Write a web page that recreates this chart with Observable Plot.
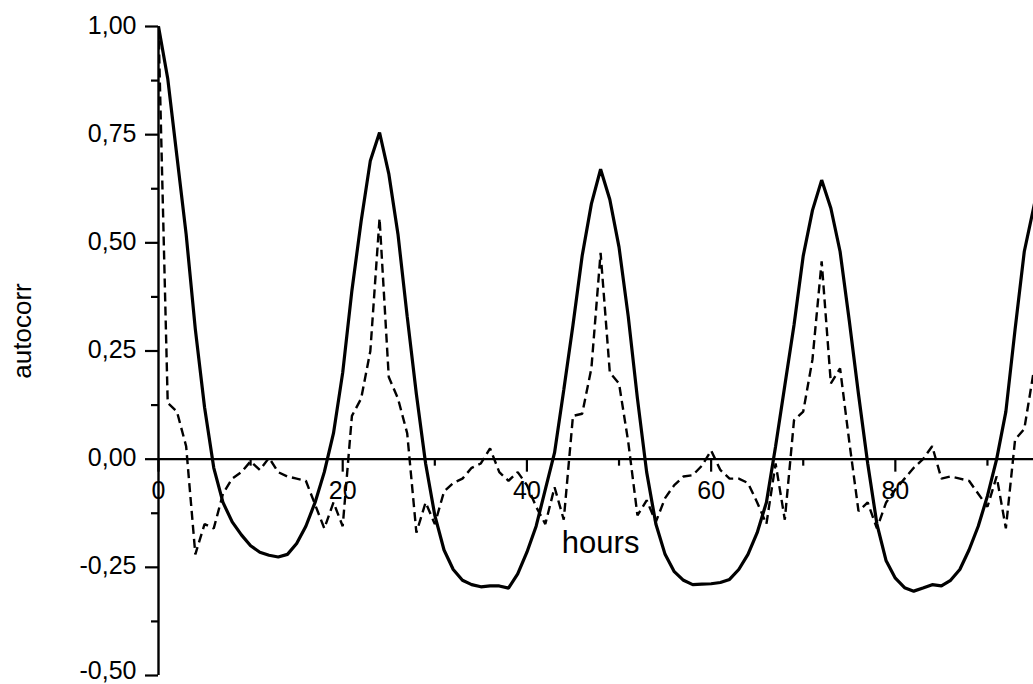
<!DOCTYPE html>
<html>
<head>
<meta charset="utf-8">
<script src="https://cdn.jsdelivr.net/npm/d3@7"></script>
<script src="https://cdn.jsdelivr.net/npm/@observablehq/plot@0.6"></script>
<style>
  html, body { margin: 0; padding: 0; background: #ffffff; }
  #chart svg { display: block; }
</style>
</head>
<body>
<div id="chart"></div>
<script>
// autocorrelation, solid series (hour 0..96)
const solidValues = [
  1.00, 0.88, 0.70, 0.52, 0.30, 0.12, -0.02, -0.10, -0.145, -0.175,
  -0.20, -0.215, -0.222, -0.226, -0.22, -0.195, -0.155, -0.10, -0.03, 0.06,
  0.20, 0.39, 0.55, 0.69, 0.755, 0.66, 0.52, 0.33, 0.15, -0.01,
  -0.13, -0.21, -0.255, -0.28, -0.29, -0.295, -0.293, -0.293, -0.298, -0.265,
  -0.215, -0.155, -0.07, 0.015, 0.16, 0.31, 0.47, 0.59, 0.67, 0.60,
  0.49, 0.33, 0.14, -0.03, -0.15, -0.22, -0.26, -0.28, -0.29, -0.289,
  -0.288, -0.285, -0.278, -0.255, -0.22, -0.17, -0.10, 0.03, 0.17, 0.31,
  0.47, 0.575, 0.645, 0.58, 0.48, 0.32, 0.15, -0.01, -0.15, -0.235,
  -0.275, -0.297, -0.305, -0.298, -0.29, -0.293, -0.28, -0.255, -0.21, -0.155,
  -0.085, 0.0, 0.11, 0.30, 0.48, 0.58, 0.68
];
// autocorrelation, dashed series (hour 0..95)
const dashedValues = [
  1.00, 0.13, 0.11, 0.03, -0.22, -0.15, -0.16, -0.08, -0.045, -0.03,
  -0.005, -0.025, 0.003, -0.03, -0.04, -0.045, -0.05, -0.105, -0.16, -0.10,
  -0.155, 0.10, 0.14, 0.25, 0.557, 0.19, 0.14, 0.06, -0.17, -0.10,
  -0.15, -0.075, -0.055, -0.045, -0.02, -0.01, 0.025, -0.03, -0.05, -0.03,
  -0.06, -0.11, -0.15, -0.065, -0.14, 0.10, 0.105, 0.21, 0.477, 0.20,
  0.175, 0.04, -0.13, -0.095, -0.145, -0.09, -0.06, -0.04, -0.037, -0.015,
  0.02, -0.025, -0.045, -0.045, -0.055, -0.10, -0.15, -0.01, -0.14, 0.09,
  0.11, 0.23, 0.457, 0.175, 0.21, 0.04, -0.12, -0.10, -0.16, -0.10,
  -0.07, -0.045, -0.02, 0.0, 0.03, -0.045, -0.04, -0.045, -0.05, -0.08,
  -0.11, -0.04, -0.16, 0.045, 0.07, 0.20
];

const xMajorTicks = [0, 20, 40, 60, 80];
const xMinorTicks = [10, 30, 50, 70, 90];
const yMajorTicks = [-0.5, -0.25, 0, 0.25, 0.5, 0.75, 1.0];
const yMinorTicks = [-0.375, -0.125, 0.125, 0.375, 0.625, 0.875];
const xTitle = "hours";
const yTitle = "autocorr";

const solidData = solidValues.map((v, i) => ({hour: i, value: v}));
const dashedData = dashedValues.map((v, i) => ({hour: i, value: v}));
const fmt = d => d.toFixed(2).replace(".", ",");
const yLow = d3.min(yMajorTicks);

const FONT = "'Liberation Sans', Arial, Helvetica, sans-serif";

const chart = Plot.plot({
  width: 1033,
  height: 684,
  marginLeft: 158,
  marginRight: 0,
  marginTop: 26,
  marginBottom: 9,
  x: {domain: [0, 95], axis: null},
  y: {domain: [-0.5, 1.0], axis: null},
  style: {fontFamily: FONT, background: "#ffffff", color: "#000000", overflow: "visible"},
  marks: [
    // tick labels
    Plot.text(xMajorTicks, {x: d => d, y: 0, text: d => String(d), dy: 22, lineAnchor: "top", textAnchor: "middle", fontSize: 25, fill: "#000"}),
    Plot.text(yMajorTicks.filter(d => d > yLow), {x: 0, y: d => d, text: fmt, textAnchor: "end", lineAnchor: "middle", dx: -22, dy: -1, fontSize: 25, fill: "#000"}),
    Plot.text([yLow], {x: 0, y: d => d, text: fmt, textAnchor: "end", lineAnchor: "middle", dx: -22, dy: -5, fontSize: 25, fill: "#000"}),
    // axis titles
    Plot.text([xTitle], {x: 48, y: -0.2166, text: d => d, textAnchor: "middle", lineAnchor: "bottom", fontSize: 31, fill: "#000"}),
    Plot.text([yTitle], {frameAnchor: "left", text: d => d, rotate: -90, dx: -136, dy: -20, textAnchor: "middle", lineAnchor: "middle", fontSize: 26, fill: "#000"}),
    // axis lines
    Plot.ruleY([0], {stroke: "#000", strokeWidth: 2.4}),
    Plot.ruleX([0], {stroke: "#000", strokeWidth: 2.4}),
    // ticks
    Plot.ruleX(xMajorTicks, {x: d => d, y1: 0, y2: 0, insetBottom: -13, stroke: "#000", strokeWidth: 2.2}),
    Plot.ruleX(xMinorTicks, {x: d => d, y1: 0, y2: 0, insetBottom: -7, stroke: "#000", strokeWidth: 2.2}),
    Plot.ruleY(yMajorTicks, {y: d => d, x1: 0, x2: 0, insetLeft: -13, stroke: "#000", strokeWidth: 2.2}),
    Plot.ruleY(yMinorTicks, {y: d => d, x1: 0, x2: 0, insetLeft: -7, stroke: "#000", strokeWidth: 2.2}),
    // series
    Plot.line(dashedData, {x: "hour", y: "value", stroke: "#000", strokeWidth: 2.4, strokeDasharray: "9,5", strokeLinecap: "butt", strokeLinejoin: "miter", clip: true}),
    Plot.line(solidData, {x: "hour", y: "value", stroke: "#000", strokeWidth: 3.2, strokeLinecap: "butt", strokeLinejoin: "miter", clip: true})
  ]
});

document.getElementById("chart").appendChild(chart);
</script>
</body>
</html>
